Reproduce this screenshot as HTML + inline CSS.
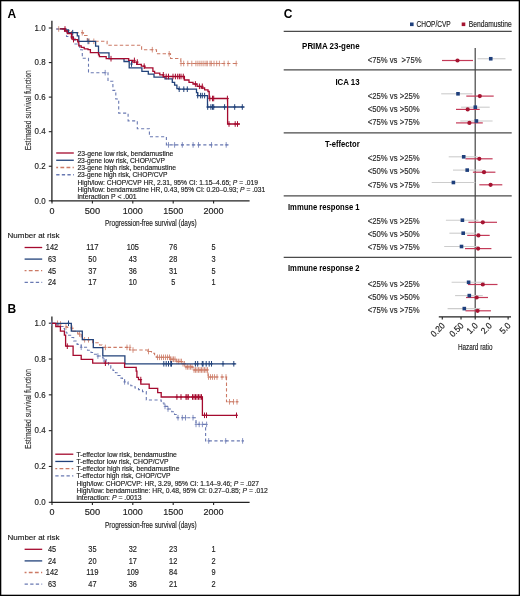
<!DOCTYPE html>
<html><head><meta charset="utf-8"><title>Figure</title>
<style>html,body{margin:0;padding:0;background:#fff;width:520px;height:596px;overflow:hidden}
svg{display:block;font-family:"Liberation Sans",sans-serif;will-change:transform}</style></head>
<body><svg width="520" height="596" viewBox="0 0 520 596" font-family="Liberation Sans, sans-serif"><rect x="0.5" y="0.5" width="519" height="595" fill="#fff" stroke="#000" stroke-width="1.6"/>
<text x="7.5" y="17.5" font-size="12" text-anchor="start" font-weight="bold">A</text>
<line x1="51.9" y1="20.8" x2="51.9" y2="201.4" stroke="#222" stroke-width="1.3"/>
<line x1="51.3" y1="200.8" x2="249.6" y2="200.8" stroke="#222" stroke-width="1.3"/>
<line x1="48.8" y1="28.0" x2="51.9" y2="28.0" stroke="#222" stroke-width="1.1"/>
<text x="45.6" y="30.7" font-size="9" text-anchor="end" textLength="11" lengthAdjust="spacingAndGlyphs" fill="#222" stroke="#222" stroke-width="0.16">1.0</text>
<line x1="48.8" y1="62.56" x2="51.9" y2="62.56" stroke="#222" stroke-width="1.1"/>
<text x="45.6" y="65.26" font-size="9" text-anchor="end" textLength="11" lengthAdjust="spacingAndGlyphs" fill="#222" stroke="#222" stroke-width="0.16">0.8</text>
<line x1="48.8" y1="97.12" x2="51.9" y2="97.12" stroke="#222" stroke-width="1.1"/>
<text x="45.6" y="99.82000000000001" font-size="9" text-anchor="end" textLength="11" lengthAdjust="spacingAndGlyphs" fill="#222" stroke="#222" stroke-width="0.16">0.6</text>
<line x1="48.8" y1="131.68" x2="51.9" y2="131.68" stroke="#222" stroke-width="1.1"/>
<text x="45.6" y="134.38" font-size="9" text-anchor="end" textLength="11" lengthAdjust="spacingAndGlyphs" fill="#222" stroke="#222" stroke-width="0.16">0.4</text>
<line x1="48.8" y1="166.24" x2="51.9" y2="166.24" stroke="#222" stroke-width="1.1"/>
<text x="45.6" y="168.94" font-size="9" text-anchor="end" textLength="11" lengthAdjust="spacingAndGlyphs" fill="#222" stroke="#222" stroke-width="0.16">0.2</text>
<line x1="48.8" y1="200.8" x2="51.9" y2="200.8" stroke="#222" stroke-width="1.1"/>
<text x="45.6" y="203.5" font-size="9" text-anchor="end" textLength="11" lengthAdjust="spacingAndGlyphs" fill="#222" stroke="#222" stroke-width="0.16">0.0</text>
<line x1="52.0" y1="200.8" x2="52.0" y2="203.4" stroke="#222" stroke-width="1.1"/>
<text x="52.0" y="213.9" font-size="9" text-anchor="middle" textLength="5" lengthAdjust="spacingAndGlyphs" fill="#222" stroke="#222" stroke-width="0.16">0</text>
<line x1="92.4" y1="200.8" x2="92.4" y2="203.4" stroke="#222" stroke-width="1.1"/>
<text x="92.4" y="213.9" font-size="9" text-anchor="middle" textLength="15.5" lengthAdjust="spacingAndGlyphs" fill="#222" stroke="#222" stroke-width="0.16">500</text>
<line x1="132.8" y1="200.8" x2="132.8" y2="203.4" stroke="#222" stroke-width="1.1"/>
<text x="132.8" y="213.9" font-size="9" text-anchor="middle" textLength="20" lengthAdjust="spacingAndGlyphs" fill="#222" stroke="#222" stroke-width="0.16">1000</text>
<line x1="173.2" y1="200.8" x2="173.2" y2="203.4" stroke="#222" stroke-width="1.1"/>
<text x="173.2" y="213.9" font-size="9" text-anchor="middle" textLength="20" lengthAdjust="spacingAndGlyphs" fill="#222" stroke="#222" stroke-width="0.16">1500</text>
<line x1="213.6" y1="200.8" x2="213.6" y2="203.4" stroke="#222" stroke-width="1.1"/>
<text x="213.6" y="213.9" font-size="9" text-anchor="middle" textLength="20" lengthAdjust="spacingAndGlyphs" fill="#222" stroke="#222" stroke-width="0.16">2000</text>
<text x="150.8" y="226.4" font-size="9" text-anchor="middle" textLength="91.5" lengthAdjust="spacingAndGlyphs" fill="#222" stroke="#222" stroke-width="0.16">Progression-free survival (days)</text>
<text x="0" y="0" font-size="9" text-anchor="middle" textLength="80" lengthAdjust="spacingAndGlyphs" fill="#333" stroke="#333" stroke-width="0.16" transform="translate(31.1,110.3) rotate(-90)">Estimated survival function</text>
<path d="M56.3,29 H66 V30.5 H71.5 V32.7 H83.5 V35.5 H87.3 V41.3 H107.1 V45.3 H141.6 V49.7 H156.5 V53.8 H170.5 V58.5 H180.8 V63.5 H238.3" fill="none" stroke="#cc7a65" stroke-width="1.1" stroke-dasharray="3.4 2.3"/>
<path d="M57.4,29.0h2.6M58.7,26.2v5.6M81.0,32.7h2.6M82.3,29.9v5.6M87.9,41.3h2.6M89.2,38.5v5.6M92.5,41.3h2.6M93.8,38.5v5.6M151.0,49.7h2.6M152.3,46.9v5.6M167.9,53.8h2.6M169.2,51.0v5.6M179.7,63.5h2.6M181.0,60.7v5.6M182.4,63.5h2.6M183.7,60.7v5.6M186.5,63.5h2.6M187.8,60.7v5.6M190.5,63.5h2.6M191.8,60.7v5.6M194.6,63.5h2.6M195.9,60.7v5.6M196.6,63.5h2.6M197.9,60.7v5.6M198.6,63.5h2.6M199.9,60.7v5.6M200.6,63.5h2.6M201.9,60.7v5.6M202.6,63.5h2.6M203.9,60.7v5.6M204.7,63.5h2.6M206.0,60.7v5.6M206.0,63.5h2.6M207.3,60.7v5.6M208.7,63.5h2.6M210.0,60.7v5.6M210.0,63.5h2.6M211.3,60.7v5.6M212.7,63.5h2.6M214.0,60.7v5.6M215.4,63.5h2.6M216.7,60.7v5.6M218.1,63.5h2.6M219.4,60.7v5.6M222.8,63.5h2.6M224.1,60.7v5.6M226.9,63.5h2.6M228.2,60.7v5.6M234.9,63.5h2.6M236.2,60.7v5.6" fill="none" stroke="#cc7a65" stroke-width="0.8"/>
<path d="M56,29 H64 V31 H66.5 V36.5 H75 V44 H79.6 V49.8 H82.3 V58.3 H88.5 V72.7 H108 V81.2 H112.9 V90.4 H115.8 V99 H118.7 V113.1 H128.1 V120.9 H137.3 V128.7 H149.4 V136.7 H166.4 V144.9 H228.5" fill="none" stroke="#6979b2" stroke-width="1.1" stroke-dasharray="3.1 2.5"/>
<path d="M103.9,72.7h2.6M105.2,69.9v5.6M167.2,144.9h2.6M168.5,142.1v5.6M173.3,144.9h2.6M174.6,142.1v5.6M181.0,144.9h2.6M182.3,142.1v5.6M191.8,144.9h2.6M193.1,142.1v5.6M197.2,144.9h2.6M198.5,142.1v5.6M210.2,144.9h2.6M211.5,142.1v5.6M224.9,144.9h2.6M226.2,142.1v5.6" fill="none" stroke="#6979b2" stroke-width="0.8"/>
<path d="M60,28.8 H65.8 V30 H68.5 V32.7 H77.3 V35.8 H78.8 V41.4 H95.6 V46.2 H98.5 V52.9 H109 V58.7 H124 V61.5 H129.2 V67.9 H141.9 V71.3 H148.3 V74.2 H154 V77.1 H165 V78.8 H172.3 V82.3 H174.6 V85.2 H176.9 V88.7 H178.7 V89.2 H196.5 V92.7 H197.7 V95.6 H207.5 V107 H244.5" fill="none" stroke="#22427a" stroke-width="1.3"/>
<path d="M71.4,32.7h2.6M72.7,29.9v5.6M86.8,41.4h2.6M88.1,38.6v5.6M130.2,64.0h2.6M131.5,61.2v5.6M177.9,89.2h2.6M179.2,86.4v5.6M182.5,89.2h2.6M183.8,86.4v5.6M186.0,89.2h2.6M187.3,86.4v5.6M196.4,95.6h2.6M197.7,92.8v5.6M199.3,95.6h2.6M200.6,92.8v5.6M201.0,95.6h2.6M202.3,92.8v5.6M203.3,95.6h2.6M204.6,92.8v5.6M206.4,107.0h2.6M207.7,104.2v5.6M209.6,107.0h2.6M210.9,104.2v5.6M211.2,107.0h2.6M212.5,104.2v5.6M212.4,107.0h2.6M213.7,104.2v5.6M223.3,107.0h2.6M224.6,104.2v5.6M233.4,107.0h2.6M234.7,104.2v5.6M241.0,107.0h2.6M242.3,104.2v5.6" fill="none" stroke="#22427a" stroke-width="1.0"/>
<path d="M60,28.8 H64.6 V31 H67.3 V33.5 H71.5 V38 H73.5 V39.6 H77.7 V41.9 H78.8 V45.8 H81.2 V47.3 H84.2 V48.8 H88 V49.6 H90.4 V52.6 H98.5 V54.8 H99.4 V56.7 H106.2 V58.7 H128.7 V60.4 H132.7 V62.1 H136.7 V64.4 H141.3 V66.2 H144.8 V67.9 H152.9 V71.3 H154.6 V73.1 H159.8 V74.8 H163.3 V76.5 H184.4 V80 H189 V82.3 H193 V84 H197.1 V86.3 H201.2 V88 H204.6 V89.8 H208 V91.5 H209.2 V98.5 H227.6 V124 H240" fill="none" stroke="#a50a2e" stroke-width="1.3"/>
<path d="M63.7,29.0h2.6M65.0,26.2v5.6M70.6,37.0h2.6M71.9,34.2v5.6M72.2,39.6h2.6M73.5,36.8v5.6M109.7,58.7h2.6M111.0,55.9v5.6M133.1,60.4h2.6M134.4,57.6v5.6M136.0,62.1h2.6M137.3,59.3v5.6M142.9,66.2h2.6M144.2,63.4v5.6M162.0,74.8h2.6M163.3,72.0v5.6M164.9,76.5h2.6M166.2,73.7v5.6M167.2,76.5h2.6M168.5,73.7v5.6M171.7,76.5h2.6M173.0,73.7v5.6M174.1,76.5h2.6M175.4,73.7v5.6M176.4,76.5h2.6M177.7,73.7v5.6M178.1,76.5h2.6M179.4,73.7v5.6M179.7,76.5h2.6M181.0,73.7v5.6M182.0,76.5h2.6M183.3,73.7v5.6M194.1,84.0h2.6M195.4,81.2v5.6M198.1,86.3h2.6M199.4,83.5v5.6M201.0,86.3h2.6M202.3,83.5v5.6M208.5,98.5h2.6M209.8,95.7v5.6M211.2,98.5h2.6M212.5,95.7v5.6M212.4,98.5h2.6M213.7,95.7v5.6M226.1,98.5h2.6M227.4,95.7v5.6M227.7,124.0h2.6M229.0,121.2v5.6M233.9,124.0h2.6M235.2,121.2v5.6M236.2,124.0h2.6M237.5,121.2v5.6" fill="none" stroke="#a50a2e" stroke-width="1.0"/>
<line x1="56.2" y1="153.0" x2="73.8" y2="153.0" stroke="#a50a2e" stroke-width="1.3"/>
<text x="77.4" y="155.5" font-size="7" text-anchor="start" textLength="96" lengthAdjust="spacingAndGlyphs" fill="#222" stroke="#222" stroke-width="0.16">23-gene low risk, bendamustine</text>
<line x1="56.2" y1="160.25" x2="73.8" y2="160.25" stroke="#22427a" stroke-width="1.3"/>
<text x="77.4" y="162.75" font-size="7" text-anchor="start" textLength="87.6" lengthAdjust="spacingAndGlyphs" fill="#222" stroke="#222" stroke-width="0.16">23-gene low risk, CHOP/CVP</text>
<line x1="56.2" y1="167.5" x2="73.8" y2="167.5" stroke="#cc7a65" stroke-width="1.3" stroke-dasharray="3.8 2.3" stroke-dashoffset="1.9"/>
<text x="77.4" y="170.0" font-size="7" text-anchor="start" textLength="98.6" lengthAdjust="spacingAndGlyphs" fill="#222" stroke="#222" stroke-width="0.16">23-gene high risk, bendamustine</text>
<line x1="56.2" y1="174.75" x2="73.8" y2="174.75" stroke="#6979b2" stroke-width="1.3" stroke-dasharray="3.3 2.3"/>
<text x="77.4" y="177.25" font-size="7" text-anchor="start" textLength="90.1" lengthAdjust="spacingAndGlyphs" fill="#222" stroke="#222" stroke-width="0.16">23-gene high risk, CHOP/CVP</text>
<text x="77.4" y="184.5" font-size="7" text-anchor="start" textLength="180.6" lengthAdjust="spacingAndGlyphs" fill="#222" stroke="#222" stroke-width="0.16">High/low: CHOP/CVP HR, 2.31, 95% CI: 1.15–4.65; <tspan font-style="italic">P</tspan> = .019</text>
<text x="77.4" y="191.75" font-size="7" text-anchor="start" textLength="187.8" lengthAdjust="spacingAndGlyphs" fill="#222" stroke="#222" stroke-width="0.16">High/low: bendamustine HR, 0.43, 95% CI: 0.20–0.93; <tspan font-style="italic">P</tspan> = .031</text>
<text x="77.4" y="199.0" font-size="7" text-anchor="start" textLength="59.3" lengthAdjust="spacingAndGlyphs" fill="#222" stroke="#222" stroke-width="0.16">interaction P &lt; .001</text>
<text x="7.5" y="237.89999999999998" font-size="8" text-anchor="start" textLength="52" lengthAdjust="spacingAndGlyphs" fill="#222" stroke="#222" stroke-width="0.16">Number at risk</text>
<line x1="24.6" y1="247.49999999999997" x2="42.2" y2="247.49999999999997" stroke="#a50a2e" stroke-width="1.3"/>
<text x="52.0" y="250.39999999999998" font-size="8.5" text-anchor="middle" textLength="12.299999999999999" lengthAdjust="spacingAndGlyphs" fill="#222" stroke="#222" stroke-width="0.16">142</text>
<text x="92.4" y="250.39999999999998" font-size="8.5" text-anchor="middle" textLength="12.299999999999999" lengthAdjust="spacingAndGlyphs" fill="#222" stroke="#222" stroke-width="0.16">117</text>
<text x="132.8" y="250.39999999999998" font-size="8.5" text-anchor="middle" textLength="12.299999999999999" lengthAdjust="spacingAndGlyphs" fill="#222" stroke="#222" stroke-width="0.16">105</text>
<text x="173.2" y="250.39999999999998" font-size="8.5" text-anchor="middle" textLength="8.2" lengthAdjust="spacingAndGlyphs" fill="#222" stroke="#222" stroke-width="0.16">76</text>
<text x="213.6" y="250.39999999999998" font-size="8.5" text-anchor="middle" textLength="4.1" lengthAdjust="spacingAndGlyphs" fill="#222" stroke="#222" stroke-width="0.16">5</text>
<line x1="24.6" y1="259.09999999999997" x2="42.2" y2="259.09999999999997" stroke="#22427a" stroke-width="1.3"/>
<text x="52.0" y="261.99999999999994" font-size="8.5" text-anchor="middle" textLength="8.2" lengthAdjust="spacingAndGlyphs" fill="#222" stroke="#222" stroke-width="0.16">63</text>
<text x="92.4" y="261.99999999999994" font-size="8.5" text-anchor="middle" textLength="8.2" lengthAdjust="spacingAndGlyphs" fill="#222" stroke="#222" stroke-width="0.16">50</text>
<text x="132.8" y="261.99999999999994" font-size="8.5" text-anchor="middle" textLength="8.2" lengthAdjust="spacingAndGlyphs" fill="#222" stroke="#222" stroke-width="0.16">43</text>
<text x="173.2" y="261.99999999999994" font-size="8.5" text-anchor="middle" textLength="8.2" lengthAdjust="spacingAndGlyphs" fill="#222" stroke="#222" stroke-width="0.16">28</text>
<text x="213.6" y="261.99999999999994" font-size="8.5" text-anchor="middle" textLength="4.1" lengthAdjust="spacingAndGlyphs" fill="#222" stroke="#222" stroke-width="0.16">3</text>
<line x1="24.6" y1="270.7" x2="42.2" y2="270.7" stroke="#cc7a65" stroke-width="1.3" stroke-dasharray="3.8 2.3" stroke-dashoffset="1.9"/>
<text x="52.0" y="273.59999999999997" font-size="8.5" text-anchor="middle" textLength="8.2" lengthAdjust="spacingAndGlyphs" fill="#222" stroke="#222" stroke-width="0.16">45</text>
<text x="92.4" y="273.59999999999997" font-size="8.5" text-anchor="middle" textLength="8.2" lengthAdjust="spacingAndGlyphs" fill="#222" stroke="#222" stroke-width="0.16">37</text>
<text x="132.8" y="273.59999999999997" font-size="8.5" text-anchor="middle" textLength="8.2" lengthAdjust="spacingAndGlyphs" fill="#222" stroke="#222" stroke-width="0.16">36</text>
<text x="173.2" y="273.59999999999997" font-size="8.5" text-anchor="middle" textLength="8.2" lengthAdjust="spacingAndGlyphs" fill="#222" stroke="#222" stroke-width="0.16">31</text>
<text x="213.6" y="273.59999999999997" font-size="8.5" text-anchor="middle" textLength="4.1" lengthAdjust="spacingAndGlyphs" fill="#222" stroke="#222" stroke-width="0.16">5</text>
<line x1="24.6" y1="282.29999999999995" x2="42.2" y2="282.29999999999995" stroke="#6979b2" stroke-width="1.3" stroke-dasharray="3.3 2.3"/>
<text x="52.0" y="285.19999999999993" font-size="8.5" text-anchor="middle" textLength="8.2" lengthAdjust="spacingAndGlyphs" fill="#222" stroke="#222" stroke-width="0.16">24</text>
<text x="92.4" y="285.19999999999993" font-size="8.5" text-anchor="middle" textLength="8.2" lengthAdjust="spacingAndGlyphs" fill="#222" stroke="#222" stroke-width="0.16">17</text>
<text x="132.8" y="285.19999999999993" font-size="8.5" text-anchor="middle" textLength="8.2" lengthAdjust="spacingAndGlyphs" fill="#222" stroke="#222" stroke-width="0.16">10</text>
<text x="173.2" y="285.19999999999993" font-size="8.5" text-anchor="middle" textLength="4.1" lengthAdjust="spacingAndGlyphs" fill="#222" stroke="#222" stroke-width="0.16">5</text>
<text x="213.6" y="285.19999999999993" font-size="8.5" text-anchor="middle" textLength="4.1" lengthAdjust="spacingAndGlyphs" fill="#222" stroke="#222" stroke-width="0.16">1</text>
<text x="7.5" y="313.1" font-size="12" text-anchor="start" font-weight="bold">B</text>
<line x1="51.9" y1="316.40000000000003" x2="51.9" y2="502.90000000000003" stroke="#222" stroke-width="1.3"/>
<line x1="51.3" y1="502.3" x2="249.6" y2="502.3" stroke="#222" stroke-width="1.3"/>
<line x1="48.8" y1="323.2" x2="51.9" y2="323.2" stroke="#222" stroke-width="1.1"/>
<text x="45.6" y="325.9" font-size="9" text-anchor="end" textLength="11" lengthAdjust="spacingAndGlyphs" fill="#222" stroke="#222" stroke-width="0.16">1.0</text>
<line x1="48.8" y1="359.02" x2="51.9" y2="359.02" stroke="#222" stroke-width="1.1"/>
<text x="45.6" y="361.71999999999997" font-size="9" text-anchor="end" textLength="11" lengthAdjust="spacingAndGlyphs" fill="#222" stroke="#222" stroke-width="0.16">0.8</text>
<line x1="48.8" y1="394.84000000000003" x2="51.9" y2="394.84000000000003" stroke="#222" stroke-width="1.1"/>
<text x="45.6" y="397.54" font-size="9" text-anchor="end" textLength="11" lengthAdjust="spacingAndGlyphs" fill="#222" stroke="#222" stroke-width="0.16">0.6</text>
<line x1="48.8" y1="430.65999999999997" x2="51.9" y2="430.65999999999997" stroke="#222" stroke-width="1.1"/>
<text x="45.6" y="433.35999999999996" font-size="9" text-anchor="end" textLength="11" lengthAdjust="spacingAndGlyphs" fill="#222" stroke="#222" stroke-width="0.16">0.4</text>
<line x1="48.8" y1="466.48" x2="51.9" y2="466.48" stroke="#222" stroke-width="1.1"/>
<text x="45.6" y="469.18" font-size="9" text-anchor="end" textLength="11" lengthAdjust="spacingAndGlyphs" fill="#222" stroke="#222" stroke-width="0.16">0.2</text>
<line x1="48.8" y1="502.3" x2="51.9" y2="502.3" stroke="#222" stroke-width="1.1"/>
<text x="45.6" y="505.0" font-size="9" text-anchor="end" textLength="11" lengthAdjust="spacingAndGlyphs" fill="#222" stroke="#222" stroke-width="0.16">0.0</text>
<line x1="52.0" y1="502.3" x2="52.0" y2="504.90000000000003" stroke="#222" stroke-width="1.1"/>
<text x="52.0" y="515.4" font-size="9" text-anchor="middle" textLength="5" lengthAdjust="spacingAndGlyphs" fill="#222" stroke="#222" stroke-width="0.16">0</text>
<line x1="92.4" y1="502.3" x2="92.4" y2="504.90000000000003" stroke="#222" stroke-width="1.1"/>
<text x="92.4" y="515.4" font-size="9" text-anchor="middle" textLength="15.5" lengthAdjust="spacingAndGlyphs" fill="#222" stroke="#222" stroke-width="0.16">500</text>
<line x1="132.8" y1="502.3" x2="132.8" y2="504.90000000000003" stroke="#222" stroke-width="1.1"/>
<text x="132.8" y="515.4" font-size="9" text-anchor="middle" textLength="20" lengthAdjust="spacingAndGlyphs" fill="#222" stroke="#222" stroke-width="0.16">1000</text>
<line x1="173.2" y1="502.3" x2="173.2" y2="504.90000000000003" stroke="#222" stroke-width="1.1"/>
<text x="173.2" y="515.4" font-size="9" text-anchor="middle" textLength="20" lengthAdjust="spacingAndGlyphs" fill="#222" stroke="#222" stroke-width="0.16">1500</text>
<line x1="213.6" y1="502.3" x2="213.6" y2="504.90000000000003" stroke="#222" stroke-width="1.1"/>
<text x="213.6" y="515.4" font-size="9" text-anchor="middle" textLength="20" lengthAdjust="spacingAndGlyphs" fill="#222" stroke="#222" stroke-width="0.16">2000</text>
<text x="150.8" y="527.9" font-size="9" text-anchor="middle" textLength="91.5" lengthAdjust="spacingAndGlyphs" fill="#222" stroke="#222" stroke-width="0.16">Progression-free survival (days)</text>
<text x="0" y="0" font-size="9" text-anchor="middle" textLength="80" lengthAdjust="spacingAndGlyphs" fill="#333" stroke="#333" stroke-width="0.16" transform="translate(31.1,409.1) rotate(-90)">Estimated survival function</text>
<path d="M52,323.3 H57.5 V325 H61 V326.5 H67 V327.5 H71.3 V328.3 H73.1 V331.2 H77.7 V334 H81.2 V338.7 H83 V339.8 H92.7 V342.7 H99.5 V345 H102 V347.4 H129.5 V350 H147.7 V351.5 H151.5 V353.2 H154.6 V356.2 H156.2 V357.3 H170 V359.2 H176.2 V361.5 H182.3 V363.8 H185.4 V366.9 H193 V370 H208 V377 H226.5 V401.8 H238.4" fill="none" stroke="#cc7a65" stroke-width="1.1" stroke-dasharray="3.4 2.3"/>
<path d="M56.2,323.3h2.6M57.5,320.5v5.6M59.2,324.0h2.6M60.5,321.2v5.6M64.7,327.0h2.6M66.0,324.2v5.6M70.7,328.3h2.6M72.0,325.5v5.6M78.2,334.0h2.6M79.5,331.2v5.6M83.3,339.8h2.6M84.6,337.0v5.6M87.2,339.8h2.6M88.5,337.0v5.6M104.1,347.4h2.6M105.4,344.6v5.6M125.7,347.4h2.6M127.0,344.6v5.6M128.7,347.4h2.6M130.0,344.6v5.6M131.7,350.0h2.6M133.0,347.2v5.6M147.2,351.5h2.6M148.5,348.7v5.6M156.2,357.3h2.6M157.5,354.5v5.6M158.2,357.3h2.6M159.5,354.5v5.6M160.2,357.3h2.6M161.5,354.5v5.6M162.2,357.3h2.6M163.5,354.5v5.6M164.2,357.3h2.6M165.5,354.5v5.6M166.2,357.3h2.6M167.5,354.5v5.6M168.2,357.3h2.6M169.5,354.5v5.6M169.2,359.2h2.6M170.5,356.4v5.6M170.7,359.2h2.6M172.0,356.4v5.6M172.2,359.2h2.6M173.5,356.4v5.6M173.7,359.2h2.6M175.0,356.4v5.6M175.7,361.5h2.6M177.0,358.7v5.6M177.2,361.5h2.6M178.5,358.7v5.6M178.7,361.5h2.6M180.0,358.7v5.6M180.2,361.5h2.6M181.5,358.7v5.6M181.7,363.8h2.6M183.0,361.0v5.6M183.2,363.8h2.6M184.5,361.0v5.6M184.7,366.9h2.6M186.0,364.1v5.6M186.2,366.9h2.6M187.5,364.1v5.6M187.7,366.9h2.6M189.0,364.1v5.6M189.2,366.9h2.6M190.5,364.1v5.6M190.7,366.9h2.6M192.0,364.1v5.6M192.7,370.0h2.6M194.0,367.2v5.6M194.2,370.0h2.6M195.5,367.2v5.6M195.7,370.0h2.6M197.0,367.2v5.6M197.2,370.0h2.6M198.5,367.2v5.6M198.7,370.0h2.6M200.0,367.2v5.6M200.2,370.0h2.6M201.5,367.2v5.6M201.7,370.0h2.6M203.0,367.2v5.6M203.2,370.0h2.6M204.5,367.2v5.6M204.7,370.0h2.6M206.0,367.2v5.6M206.2,370.0h2.6M207.5,367.2v5.6M207.2,377.0h2.6M208.5,374.2v5.6M209.2,377.0h2.6M210.5,374.2v5.6M211.2,377.0h2.6M212.5,374.2v5.6M213.2,377.0h2.6M214.5,374.2v5.6M215.7,377.0h2.6M217.0,374.2v5.6M220.7,377.0h2.6M222.0,374.2v5.6M224.7,377.0h2.6M226.0,374.2v5.6M228.2,401.8h2.6M229.5,399.0v5.6M232.2,401.8h2.6M233.5,399.0v5.6M235.7,401.8h2.6M237.0,399.0v5.6" fill="none" stroke="#cc7a65" stroke-width="0.8"/>
<path d="M52,323.3 H55 V324.8 H59.2 V326.5 H62.7 V328.5 H64.5 V330 H66.2 V333 H67.9 V335.2 H71.3 V337.5 H73.7 V341 H77.1 V344.4 H81.2 V347.3 H87.5 V350.2 H91 V352.5 H93.3 V354.2 H97.9 V356 H101 V357.3 H103.1 V359.5 H106.2 V361.9 H108.5 V365 H110.8 V368.1 H113 V370.5 H115.4 V372.7 H118 V375.5 H120 V378.1 H122.5 V380 H124.6 V381.9 H128 V384 H130.8 V385.8 H135 V388 H138.5 V389.6 H142.5 V391.6 H146.3 V400 H161.2 V403 H164 V406.4 H168 V409 H171.7 V411.7 H174.5 V414.5 H177 V417.7 H196 V424.4 H205.6 V440.9 H243.7" fill="none" stroke="#6979b2" stroke-width="1.1" stroke-dasharray="3.1 2.5"/>
<path d="M50.4,323.3h2.6M51.7,320.5v5.6M79.9,347.3h2.6M81.2,344.5v5.6M96.6,356.0h2.6M97.9,353.2v5.6M102.9,361.0h2.6M104.2,358.2v5.6M123.3,381.9h2.6M124.6,379.1v5.6M163.7,406.4h2.6M165.0,403.6v5.6M166.7,409.0h2.6M168.0,406.2v5.6M176.7,417.7h2.6M178.0,414.9v5.6M181.0,417.7h2.6M182.3,414.9v5.6M184.2,417.7h2.6M185.5,414.9v5.6M191.7,417.7h2.6M193.0,414.9v5.6M194.7,424.4h2.6M196.0,421.6v5.6M197.9,424.4h2.6M199.2,421.6v5.6M201.1,424.4h2.6M202.4,421.6v5.6M205.3,424.4h2.6M206.6,421.6v5.6M207.4,440.9h2.6M208.7,438.1v5.6M224.4,440.9h2.6M225.7,438.1v5.6M241.3,440.9h2.6M242.6,438.1v5.6" fill="none" stroke="#6979b2" stroke-width="0.8"/>
<path d="M52.3,323.3 H71.3 V331.2 H82.3 V339.6 H93.3 V347.7 H102.8 V355.8 H124.9 V363.8 H236.2" fill="none" stroke="#22427a" stroke-width="1.3"/>
<path d="M67.2,323.3h2.6M68.5,320.5v5.6M162.5,363.8h2.6M163.8,361.0v5.6M164.9,363.8h2.6M166.2,361.0v5.6M167.2,363.8h2.6M168.5,361.0v5.6M169.5,363.8h2.6M170.8,361.0v5.6M170.2,363.8h2.6M171.5,361.0v5.6M194.1,363.8h2.6M195.4,361.0v5.6M196.4,363.8h2.6M197.7,361.0v5.6M201.0,363.8h2.6M202.3,361.0v5.6M201.7,363.8h2.6M203.0,361.0v5.6M204.9,363.8h2.6M206.2,361.0v5.6M207.9,363.8h2.6M209.2,361.0v5.6M210.2,363.8h2.6M211.5,361.0v5.6M221.7,363.8h2.6M223.0,361.0v5.6M232.5,363.8h2.6M233.8,361.0v5.6" fill="none" stroke="#22427a" stroke-width="1.0"/>
<path d="M52,323.3 H55.8 V326.5 H60.4 V331.2 H64.4 V335.2 H65.6 V346.2 H73.1 V355.4 H81.2 V359.4 H92.7 V363.2 H124.6 V367.3 H136.2 V371.2 H136.9 V377.3 H138.5 V379.6 H140.8 V384.2 H149.2 V388.4 H157.7 V392.7 H161.2 V397 H202.4 V415.3 H237.5" fill="none" stroke="#a50a2e" stroke-width="1.3"/>
<path d="M66.0,346.2h2.6M67.3,343.4v5.6M104.1,363.2h2.6M105.4,360.4v5.6M139.5,379.6h2.6M140.8,376.8v5.6M175.6,397.0h2.6M176.9,394.2v5.6M179.7,397.0h2.6M181.0,394.2v5.6M184.7,397.0h2.6M186.0,394.2v5.6M185.7,397.0h2.6M187.0,394.2v5.6M187.0,397.0h2.6M188.3,394.2v5.6M191.2,397.0h2.6M192.5,394.2v5.6M192.7,397.0h2.6M194.0,394.2v5.6M194.2,397.0h2.6M195.5,394.2v5.6M195.7,397.0h2.6M197.0,394.2v5.6M197.2,397.0h2.6M198.5,394.2v5.6M198.7,397.0h2.6M200.0,394.2v5.6M200.2,397.0h2.6M201.5,394.2v5.6M203.2,415.3h2.6M204.5,412.5v5.6M205.2,415.3h2.6M206.5,412.5v5.6M235.2,415.3h2.6M236.5,412.5v5.6" fill="none" stroke="#a50a2e" stroke-width="1.0"/>
<line x1="55.3" y1="454.2" x2="73.3" y2="454.2" stroke="#a50a2e" stroke-width="1.3"/>
<text x="76.4" y="456.7" font-size="7" text-anchor="start" textLength="100.5" lengthAdjust="spacingAndGlyphs" fill="#222" stroke="#222" stroke-width="0.16">T-effector low risk, bendamustine</text>
<line x1="55.3" y1="461.45" x2="73.3" y2="461.45" stroke="#22427a" stroke-width="1.3"/>
<text x="76.4" y="463.95" font-size="7" text-anchor="start" textLength="92.1" lengthAdjust="spacingAndGlyphs" fill="#222" stroke="#222" stroke-width="0.16">T-effector low risk, CHOP/CVP</text>
<line x1="55.3" y1="468.7" x2="73.3" y2="468.7" stroke="#cc7a65" stroke-width="1.3" stroke-dasharray="3.8 2.3" stroke-dashoffset="1.9"/>
<text x="76.4" y="471.2" font-size="7" text-anchor="start" textLength="103.1" lengthAdjust="spacingAndGlyphs" fill="#222" stroke="#222" stroke-width="0.16">T-effector high risk, bendamustine</text>
<line x1="55.3" y1="475.95" x2="73.3" y2="475.95" stroke="#6979b2" stroke-width="1.3" stroke-dasharray="3.3 2.3"/>
<text x="76.4" y="478.45" font-size="7" text-anchor="start" textLength="94.2" lengthAdjust="spacingAndGlyphs" fill="#222" stroke="#222" stroke-width="0.16">T-effector high risk, CHOP/CVP</text>
<text x="76.4" y="485.7" font-size="7" text-anchor="start" textLength="182.6" lengthAdjust="spacingAndGlyphs" fill="#222" stroke="#222" stroke-width="0.16">High/low: CHOP/CVP: HR, 3.29, 95% CI: 1.14–9.46; <tspan font-style="italic">P</tspan> = .027</text>
<text x="76.4" y="492.95" font-size="7" text-anchor="start" textLength="191.5" lengthAdjust="spacingAndGlyphs" fill="#222" stroke="#222" stroke-width="0.16">High/low: bendamustine: HR, 0.48, 95% CI: 0.27–0.85; <tspan font-style="italic">P</tspan> = .012</text>
<text x="76.4" y="500.2" font-size="7" text-anchor="start" textLength="65.2" lengthAdjust="spacingAndGlyphs" fill="#222" stroke="#222" stroke-width="0.16">interaction: <tspan font-style="italic">P</tspan> = .0013</text>
<text x="7.5" y="539.7" font-size="8" text-anchor="start" textLength="52" lengthAdjust="spacingAndGlyphs" fill="#222" stroke="#222" stroke-width="0.16">Number at risk</text>
<line x1="24.6" y1="549.3000000000001" x2="42.2" y2="549.3000000000001" stroke="#a50a2e" stroke-width="1.3"/>
<text x="52.0" y="552.2" font-size="8.5" text-anchor="middle" textLength="8.2" lengthAdjust="spacingAndGlyphs" fill="#222" stroke="#222" stroke-width="0.16">45</text>
<text x="92.4" y="552.2" font-size="8.5" text-anchor="middle" textLength="8.2" lengthAdjust="spacingAndGlyphs" fill="#222" stroke="#222" stroke-width="0.16">35</text>
<text x="132.8" y="552.2" font-size="8.5" text-anchor="middle" textLength="8.2" lengthAdjust="spacingAndGlyphs" fill="#222" stroke="#222" stroke-width="0.16">32</text>
<text x="173.2" y="552.2" font-size="8.5" text-anchor="middle" textLength="8.2" lengthAdjust="spacingAndGlyphs" fill="#222" stroke="#222" stroke-width="0.16">23</text>
<text x="213.6" y="552.2" font-size="8.5" text-anchor="middle" textLength="4.1" lengthAdjust="spacingAndGlyphs" fill="#222" stroke="#222" stroke-width="0.16">1</text>
<line x1="24.6" y1="560.9000000000001" x2="42.2" y2="560.9000000000001" stroke="#22427a" stroke-width="1.3"/>
<text x="52.0" y="563.8000000000001" font-size="8.5" text-anchor="middle" textLength="8.2" lengthAdjust="spacingAndGlyphs" fill="#222" stroke="#222" stroke-width="0.16">24</text>
<text x="92.4" y="563.8000000000001" font-size="8.5" text-anchor="middle" textLength="8.2" lengthAdjust="spacingAndGlyphs" fill="#222" stroke="#222" stroke-width="0.16">20</text>
<text x="132.8" y="563.8000000000001" font-size="8.5" text-anchor="middle" textLength="8.2" lengthAdjust="spacingAndGlyphs" fill="#222" stroke="#222" stroke-width="0.16">17</text>
<text x="173.2" y="563.8000000000001" font-size="8.5" text-anchor="middle" textLength="8.2" lengthAdjust="spacingAndGlyphs" fill="#222" stroke="#222" stroke-width="0.16">12</text>
<text x="213.6" y="563.8000000000001" font-size="8.5" text-anchor="middle" textLength="4.1" lengthAdjust="spacingAndGlyphs" fill="#222" stroke="#222" stroke-width="0.16">2</text>
<line x1="24.6" y1="572.5" x2="42.2" y2="572.5" stroke="#cc7a65" stroke-width="1.3" stroke-dasharray="3.8 2.3" stroke-dashoffset="1.9"/>
<text x="52.0" y="575.4" font-size="8.5" text-anchor="middle" textLength="12.299999999999999" lengthAdjust="spacingAndGlyphs" fill="#222" stroke="#222" stroke-width="0.16">142</text>
<text x="92.4" y="575.4" font-size="8.5" text-anchor="middle" textLength="12.299999999999999" lengthAdjust="spacingAndGlyphs" fill="#222" stroke="#222" stroke-width="0.16">119</text>
<text x="132.8" y="575.4" font-size="8.5" text-anchor="middle" textLength="12.299999999999999" lengthAdjust="spacingAndGlyphs" fill="#222" stroke="#222" stroke-width="0.16">109</text>
<text x="173.2" y="575.4" font-size="8.5" text-anchor="middle" textLength="8.2" lengthAdjust="spacingAndGlyphs" fill="#222" stroke="#222" stroke-width="0.16">84</text>
<text x="213.6" y="575.4" font-size="8.5" text-anchor="middle" textLength="4.1" lengthAdjust="spacingAndGlyphs" fill="#222" stroke="#222" stroke-width="0.16">9</text>
<line x1="24.6" y1="584.1" x2="42.2" y2="584.1" stroke="#6979b2" stroke-width="1.3" stroke-dasharray="3.3 2.3"/>
<text x="52.0" y="587.0" font-size="8.5" text-anchor="middle" textLength="8.2" lengthAdjust="spacingAndGlyphs" fill="#222" stroke="#222" stroke-width="0.16">63</text>
<text x="92.4" y="587.0" font-size="8.5" text-anchor="middle" textLength="8.2" lengthAdjust="spacingAndGlyphs" fill="#222" stroke="#222" stroke-width="0.16">47</text>
<text x="132.8" y="587.0" font-size="8.5" text-anchor="middle" textLength="8.2" lengthAdjust="spacingAndGlyphs" fill="#222" stroke="#222" stroke-width="0.16">36</text>
<text x="173.2" y="587.0" font-size="8.5" text-anchor="middle" textLength="8.2" lengthAdjust="spacingAndGlyphs" fill="#222" stroke="#222" stroke-width="0.16">21</text>
<text x="213.6" y="587.0" font-size="8.5" text-anchor="middle" textLength="4.1" lengthAdjust="spacingAndGlyphs" fill="#222" stroke="#222" stroke-width="0.16">2</text>
<text x="283.7" y="18" font-size="12" text-anchor="start" font-weight="bold">C</text>
<rect x="410" y="22.5" width="3.6" height="3.6" fill="#1e3f7c"/>
<text x="416.5" y="27.2" font-size="8.5" text-anchor="start" textLength="34.2" lengthAdjust="spacingAndGlyphs" fill="#222" stroke="#222" stroke-width="0.16">CHOP/CVP</text>
<rect x="461.7" y="22.5" width="3.6" height="3.6" fill="#a51431"/>
<text x="468.7" y="27.2" font-size="8.5" text-anchor="start" textLength="43" lengthAdjust="spacingAndGlyphs" fill="#222" stroke="#222" stroke-width="0.16">Bendamustine</text>
<line x1="283.7" y1="31.3" x2="511.7" y2="31.3" stroke="#4a4a4a" stroke-width="1.2"/>
<line x1="283.7" y1="69.8" x2="511.7" y2="69.8" stroke="#4a4a4a" stroke-width="1.2"/>
<line x1="283.7" y1="132.8" x2="511.7" y2="132.8" stroke="#4a4a4a" stroke-width="1.2"/>
<line x1="283.7" y1="195.8" x2="511.7" y2="195.8" stroke="#4a4a4a" stroke-width="1.2"/>
<line x1="283.7" y1="257.4" x2="511.7" y2="257.4" stroke="#4a4a4a" stroke-width="1.2"/>
<line x1="475.2" y1="48" x2="475.2" y2="317" stroke="#444" stroke-width="1.2"/>
<text x="359.6" y="48.8" font-size="8.5" text-anchor="end" font-weight="bold" textLength="57.5" lengthAdjust="spacingAndGlyphs">PRIMA 23-gene</text>
<text x="367.7" y="63.3" font-size="8.5" text-anchor="start" textLength="53.8" lengthAdjust="spacingAndGlyphs" fill="#2b2b2b" stroke="#2b2b2b" stroke-width="0.16">&lt;75% vs&#160; &gt;75%</text>
<text x="359.6" y="84.5" font-size="8.5" text-anchor="end" font-weight="bold" textLength="24.2" lengthAdjust="spacingAndGlyphs">ICA 13</text>
<text x="367.7" y="98.6" font-size="8.5" text-anchor="start" textLength="52" lengthAdjust="spacingAndGlyphs" fill="#2b2b2b" stroke="#2b2b2b" stroke-width="0.16">&lt;25% vs &gt;25%</text>
<text x="367.7" y="111.7" font-size="8.5" text-anchor="start" textLength="52" lengthAdjust="spacingAndGlyphs" fill="#2b2b2b" stroke="#2b2b2b" stroke-width="0.16">&lt;50% vs &gt;50%</text>
<text x="367.7" y="124.7" font-size="8.5" text-anchor="start" textLength="52" lengthAdjust="spacingAndGlyphs" fill="#2b2b2b" stroke="#2b2b2b" stroke-width="0.16">&lt;75% vs &gt;75%</text>
<text x="359.6" y="146.70000000000002" font-size="8.5" text-anchor="end" font-weight="bold" textLength="34.6" lengthAdjust="spacingAndGlyphs">T-effector</text>
<text x="367.7" y="161.3" font-size="8.5" text-anchor="start" textLength="52" lengthAdjust="spacingAndGlyphs" fill="#2b2b2b" stroke="#2b2b2b" stroke-width="0.16">&lt;25% vs &gt;25%</text>
<text x="367.7" y="174.4" font-size="8.5" text-anchor="start" textLength="52" lengthAdjust="spacingAndGlyphs" fill="#2b2b2b" stroke="#2b2b2b" stroke-width="0.16">&lt;50% vs &gt;50%</text>
<text x="367.7" y="187.6" font-size="8.5" text-anchor="start" textLength="52" lengthAdjust="spacingAndGlyphs" fill="#2b2b2b" stroke="#2b2b2b" stroke-width="0.16">&lt;75% vs &gt;75%</text>
<text x="359.6" y="209.5" font-size="8.5" text-anchor="end" font-weight="bold" textLength="71.6" lengthAdjust="spacingAndGlyphs">Immune response 1</text>
<text x="367.7" y="224.3" font-size="8.5" text-anchor="start" textLength="52" lengthAdjust="spacingAndGlyphs" fill="#2b2b2b" stroke="#2b2b2b" stroke-width="0.16">&lt;25% vs &gt;25%</text>
<text x="367.7" y="237.4" font-size="8.5" text-anchor="start" textLength="52" lengthAdjust="spacingAndGlyphs" fill="#2b2b2b" stroke="#2b2b2b" stroke-width="0.16">&lt;50% vs &gt;50%</text>
<text x="367.7" y="250.3" font-size="8.5" text-anchor="start" textLength="52" lengthAdjust="spacingAndGlyphs" fill="#2b2b2b" stroke="#2b2b2b" stroke-width="0.16">&lt;75% vs &gt;75%</text>
<text x="359.6" y="271.3" font-size="8.5" text-anchor="end" font-weight="bold" textLength="71.6" lengthAdjust="spacingAndGlyphs">Immune response 2</text>
<text x="367.7" y="286.5" font-size="8.5" text-anchor="start" textLength="52" lengthAdjust="spacingAndGlyphs" fill="#2b2b2b" stroke="#2b2b2b" stroke-width="0.16">&lt;25% vs &gt;25%</text>
<text x="367.7" y="299.6" font-size="8.5" text-anchor="start" textLength="52" lengthAdjust="spacingAndGlyphs" fill="#2b2b2b" stroke="#2b2b2b" stroke-width="0.16">&lt;50% vs &gt;50%</text>
<text x="367.7" y="312.8" font-size="8.5" text-anchor="start" textLength="52" lengthAdjust="spacingAndGlyphs" fill="#2b2b2b" stroke="#2b2b2b" stroke-width="0.16">&lt;75% vs &gt;75%</text>
<line x1="477.5" y1="58.75" x2="505.5" y2="58.75" stroke="#cccccc" stroke-width="1.1"/>
<line x1="441.2" y1="93.8" x2="472.4" y2="93.8" stroke="#cccccc" stroke-width="1.1"/>
<line x1="461.1" y1="107.2" x2="489.7" y2="107.2" stroke="#cccccc" stroke-width="1.1"/>
<line x1="460.3" y1="121" x2="492.6" y2="121" stroke="#cccccc" stroke-width="1.1"/>
<line x1="448.7" y1="156.8" x2="477.6" y2="156.8" stroke="#cccccc" stroke-width="1.1"/>
<line x1="453" y1="170.1" x2="481.9" y2="170.1" stroke="#cccccc" stroke-width="1.1"/>
<line x1="431.7" y1="182.5" x2="475.3" y2="182.5" stroke="#cccccc" stroke-width="1.1"/>
<line x1="445.9" y1="220.2" x2="478.4" y2="220.2" stroke="#cccccc" stroke-width="1.1"/>
<line x1="449.4" y1="233.2" x2="475.8" y2="233.2" stroke="#cccccc" stroke-width="1.1"/>
<line x1="444.2" y1="246.5" x2="477.6" y2="246.5" stroke="#cccccc" stroke-width="1.1"/>
<line x1="451.6" y1="282.3" x2="485" y2="282.3" stroke="#cccccc" stroke-width="1.1"/>
<line x1="455.1" y1="295.6" x2="482.8" y2="295.6" stroke="#cccccc" stroke-width="1.1"/>
<line x1="447.6" y1="308.6" x2="480.2" y2="308.6" stroke="#cccccc" stroke-width="1.1"/>
<line x1="442" y1="60.5" x2="473" y2="60.5" stroke="#c43a58" stroke-width="1.2"/>
<line x1="466.3" y1="96.1" x2="493.7" y2="96.1" stroke="#c43a58" stroke-width="1.2"/>
<line x1="456" y1="109.4" x2="479.7" y2="109.4" stroke="#c43a58" stroke-width="1.2"/>
<line x1="456" y1="122.9" x2="482.8" y2="122.9" stroke="#c43a58" stroke-width="1.2"/>
<line x1="465.5" y1="158.8" x2="492.6" y2="158.8" stroke="#c43a58" stroke-width="1.2"/>
<line x1="472.9" y1="172.2" x2="495.4" y2="172.2" stroke="#c43a58" stroke-width="1.2"/>
<line x1="479.3" y1="184.8" x2="502.3" y2="184.8" stroke="#c43a58" stroke-width="1.2"/>
<line x1="468.4" y1="222.3" x2="497" y2="222.3" stroke="#c43a58" stroke-width="1.2"/>
<line x1="467.2" y1="235.4" x2="489.7" y2="235.4" stroke="#c43a58" stroke-width="1.2"/>
<line x1="465" y1="248.6" x2="491.4" y2="248.6" stroke="#c43a58" stroke-width="1.2"/>
<line x1="468" y1="284.5" x2="497.5" y2="284.5" stroke="#c43a58" stroke-width="1.2"/>
<line x1="466" y1="297.5" x2="488" y2="297.5" stroke="#c43a58" stroke-width="1.2"/>
<line x1="465.5" y1="310.8" x2="490.9" y2="310.8" stroke="#c43a58" stroke-width="1.2"/>
<rect x="488.95" y="56.95" width="3.6" height="3.6" fill="#1e3f7c"/>
<rect x="455.40" y="58.40" width="4.2" height="4.2" rx="2.1" fill="#a51431"/>
<rect x="456.20" y="92.00" width="3.6" height="3.6" fill="#1e3f7c"/>
<rect x="477.70" y="94.00" width="4.2" height="4.2" rx="2.1" fill="#a51431"/>
<rect x="473.50" y="105.40" width="3.6" height="3.6" fill="#1e3f7c"/>
<rect x="465.60" y="107.30" width="4.2" height="4.2" rx="2.1" fill="#a51431"/>
<rect x="474.60" y="119.20" width="3.6" height="3.6" fill="#1e3f7c"/>
<rect x="467.30" y="120.80" width="4.2" height="4.2" rx="2.1" fill="#a51431"/>
<rect x="461.90" y="155.00" width="3.6" height="3.6" fill="#1e3f7c"/>
<rect x="477.20" y="156.70" width="4.2" height="4.2" rx="2.1" fill="#a51431"/>
<rect x="465.40" y="168.30" width="3.6" height="3.6" fill="#1e3f7c"/>
<rect x="481.90" y="170.10" width="4.2" height="4.2" rx="2.1" fill="#a51431"/>
<rect x="451.60" y="180.70" width="3.6" height="3.6" fill="#1e3f7c"/>
<rect x="488.50" y="182.70" width="4.2" height="4.2" rx="2.1" fill="#a51431"/>
<rect x="460.60" y="218.40" width="3.6" height="3.6" fill="#1e3f7c"/>
<rect x="480.70" y="220.20" width="4.2" height="4.2" rx="2.1" fill="#a51431"/>
<rect x="461.40" y="231.40" width="3.6" height="3.6" fill="#1e3f7c"/>
<rect x="476.30" y="233.30" width="4.2" height="4.2" rx="2.1" fill="#a51431"/>
<rect x="459.70" y="244.70" width="3.6" height="3.6" fill="#1e3f7c"/>
<rect x="476.00" y="246.50" width="4.2" height="4.2" rx="2.1" fill="#a51431"/>
<rect x="466.80" y="280.50" width="3.6" height="3.6" fill="#1e3f7c"/>
<rect x="480.70" y="282.40" width="4.2" height="4.2" rx="2.1" fill="#a51431"/>
<rect x="467.50" y="293.80" width="3.6" height="3.6" fill="#1e3f7c"/>
<rect x="474.60" y="295.40" width="4.2" height="4.2" rx="2.1" fill="#a51431"/>
<rect x="462.50" y="306.80" width="3.6" height="3.6" fill="#1e3f7c"/>
<rect x="475.50" y="308.70" width="4.2" height="4.2" rx="2.1" fill="#a51431"/>
<line x1="438.8" y1="316.9" x2="511" y2="316.9" stroke="#222" stroke-width="1.3"/>
<line x1="442.2785127957735" y1="316.9" x2="442.2785127957735" y2="319.6" stroke="#222" stroke-width="1.1"/>
<text x="0" y="0" font-size="9" text-anchor="end" textLength="16" lengthAdjust="spacingAndGlyphs" fill="#222" stroke="#222" stroke-width="0.16" transform="translate(445.5,326.3) rotate(-45)">0.20</text>
<line x1="461.02148720422645" y1="316.9" x2="461.02148720422645" y2="319.6" stroke="#222" stroke-width="1.1"/>
<text x="0" y="0" font-size="9" text-anchor="end" textLength="16" lengthAdjust="spacingAndGlyphs" fill="#222" stroke="#222" stroke-width="0.16" transform="translate(464.2,326.3) rotate(-45)">0.50</text>
<line x1="475.2" y1="316.9" x2="475.2" y2="319.6" stroke="#222" stroke-width="1.1"/>
<text x="0" y="0" font-size="9" text-anchor="end" textLength="11.5" lengthAdjust="spacingAndGlyphs" fill="#222" stroke="#222" stroke-width="0.16" transform="translate(478.4,326.3) rotate(-45)">1.0</text>
<line x1="489.37851279577353" y1="316.9" x2="489.37851279577353" y2="319.6" stroke="#222" stroke-width="1.1"/>
<text x="0" y="0" font-size="9" text-anchor="end" textLength="11.5" lengthAdjust="spacingAndGlyphs" fill="#222" stroke="#222" stroke-width="0.16" transform="translate(492.6,326.3) rotate(-45)">2.0</text>
<line x1="508.12148720422647" y1="316.9" x2="508.12148720422647" y2="319.6" stroke="#222" stroke-width="1.1"/>
<text x="0" y="0" font-size="9" text-anchor="end" textLength="11.5" lengthAdjust="spacingAndGlyphs" fill="#222" stroke="#222" stroke-width="0.16" transform="translate(511.3,326.3) rotate(-45)">5.0</text>
<text x="475.2" y="350.2" font-size="9" text-anchor="middle" textLength="34.6" lengthAdjust="spacingAndGlyphs" fill="#222" stroke="#222" stroke-width="0.16">Hazard ratio</text></svg></body></html>
